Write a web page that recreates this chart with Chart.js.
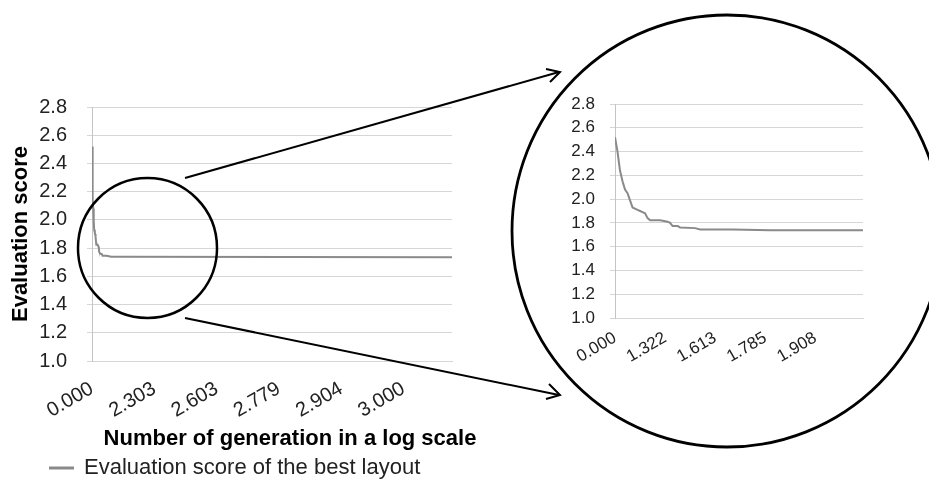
<!DOCTYPE html>
<html>
<head>
<meta charset="utf-8">
<script src="https://cdn.jsdelivr.net/npm/chart.js@4.4.1/dist/chart.umd.min.js"></script>
<style>
  html, body { margin: 0; padding: 0; background: #fff; overflow: hidden; }
  #stage { position: relative; width: 929px; height: 489px; }
  canvas, svg { position: absolute; }
  #mainChart { left: 0; top: 0; }
  #zoomChart { left: 540px; top: 60px; }
  #marks { left: 0; top: 0; pointer-events: none; }
</style>
</head>
<body>
<div id="stage">
  <canvas id="mainChart" width="550" height="489"></canvas>
  <canvas id="zoomChart" width="340" height="320"></canvas>
  <svg id="marks" width="929" height="489">
    <ellipse cx="147.5" cy="248" rx="69.5" ry="70" fill="none" stroke="#000" stroke-width="2.5"/>
    <ellipse cx="727" cy="231" rx="215" ry="216" fill="none" stroke="#000" stroke-width="2.8"/>
    <line x1="185" y1="178" x2="559" y2="72" stroke="#000" stroke-width="2"/>
    <polyline points="546,69 560,72 550,82" fill="none" stroke="#000" stroke-width="2"/>
    <line x1="185" y1="318" x2="559" y2="395" stroke="#000" stroke-width="2"/>
    <polyline points="549,384 560,395 546,399" fill="none" stroke="#000" stroke-width="2"/>
  </svg>
</div>
<script>
// generation number and best score
const generations = [1, 2, 3, 4, 5, 6, 7, 8, 10, 11, 12, 13, 14, 15, 19, 22, 23, 24, 26, 27, 33, 35, 48, 63, 100, 1157];
const bestScores = [2.52, 2.40, 2.24, 2.15, 2.08, 2.05, 1.99, 1.93, 1.91, 1.90, 1.89, 1.88, 1.84, 1.823, 1.823, 1.81, 1.80, 1.773, 1.773, 1.762, 1.756, 1.745, 1.745, 1.739, 1.739, 1.735];

// category ticks (log10 of generation number)
const mainTickGens = [1, 201, 401, 601, 801, 1001];
const mainTickLabels = ['0.000', '2.303', '2.603', '2.779', '2.904', '3.000'];
const zoomTickGens = [1, 21, 41, 61, 81];
const zoomTickLabels = ['0.000', '1.322', '1.613', '1.785', '1.908'];
const scoreTicks = [1.0, 1.2, 1.4, 1.6, 1.8, 2.0, 2.2, 2.4, 2.6, 2.8];

const seriesName = 'Evaluation score of the best layout';
const xTitle = 'Number of generation in a log scale';
const yTitle = 'Evaluation score';

const FONT = "'Liberation Sans', Arial, sans-serif";
const lineColor = '#8a8a8a';
const gridColor = '#d6d6d6';

const points = generations.map((g, i) => ({ x: g, y: bestScores[i] }));

function makeDataset() {
    return {
        label: seriesName,
        data: points,
        borderColor: lineColor,
        backgroundColor: lineColor,
        borderWidth: 2,
        pointRadius: 0,
        tension: 0,
        yAxisID: 'y'
    };
}

function yScale(fontSize, labelPad, width, title) {
    return {
        type: 'linear',
        position: 'left',
        min: 1.0,
        max: 2.8,
        afterBuildTicks: s => { s.ticks = scoreTicks.map(v => ({ value: v })); },
        afterFit: s => { s.width = width; },
        grid: { color: gridColor, lineWidth: 1, tickLength: 5, tickColor: gridColor },
        border: { display: true, color: '#c4c4c4', width: 1 },
        ticks: {
            padding: labelPad,
            color: '#222',
            font: { family: FONT, size: fontSize },
            callback: v => v.toFixed(1)
        },
        title: title
    };
}

function xScale(maxGen, tickGens, tickLabels, fontSize, height, labelPad) {
    return {
        type: 'linear',
        min: 1,
        max: maxGen,
        afterBuildTicks: s => { s.ticks = tickGens.map(v => ({ value: v })); },
        afterFit: s => { s.height = height; },
        grid: { display: false },
        border: { display: true, color: gridColor, width: 1 },
        ticks: {
            autoSkip: false,
            minRotation: 30,
            maxRotation: 30,
            padding: labelPad,
            color: '#222',
            font: { family: FONT, size: fontSize },
            callback: (v, i) => tickLabels[i]
        }
    };
}

const mainChart = new Chart(document.getElementById('mainChart'), {
    type: 'line',
    data: { datasets: [makeDataset()] },
    options: {
        responsive: false,
        animation: false,
        layout: { padding: { left: 30, top: 107, right: 0, bottom: 0 } },
        scales: {
            x: xScale(1157, mainTickGens, mainTickLabels, 20, 64.6, 8),
            y: yScale(20, 20, 62, {
                display: true,
                text: yTitle,
                color: '#000',
                font: { family: FONT, size: 22, weight: 'bold' },
                padding: { top: -22.7, bottom: 0 }
            }),
            y2: {
                position: 'right',
                afterFit: s => { s.width = 98; },
                grid: { display: false },
                border: { display: false },
                ticks: { display: false }
            }
        },
        plugins: {
            tooltip: { enabled: false },
            title: {
                display: true,
                text: xTitle,
                position: 'bottom',
                weight: 500,
                color: '#000',
                font: { family: FONT, size: 22, weight: 'bold' },
                padding: { top: 0, bottom: -15 }
            },
            legend: {
                display: true,
                position: 'bottom',
                align: 'start',
                labels: {
                    boxWidth: 23,
                    boxHeight: 1,
                    padding: 20,
                    color: '#222',
                    font: { family: FONT, size: 22 }
                }
            }
        }
    }
});

const zoomChart = new Chart(document.getElementById('zoomChart'), {
    type: 'line',
    data: { datasets: [makeDataset()] },
    options: {
        responsive: false,
        animation: false,
        layout: { padding: { left: 0, top: 44, right: 17, bottom: 0 } },
        scales: {
            x: xScale(100, zoomTickGens, zoomTickLabels, 17, 62, 2),
            y: yScale(17, 15, 75, { display: false })
        },
        plugins: {
            tooltip: { enabled: false },
            legend: { display: false }
        }
    }
});
</script>
</body>
</html>
